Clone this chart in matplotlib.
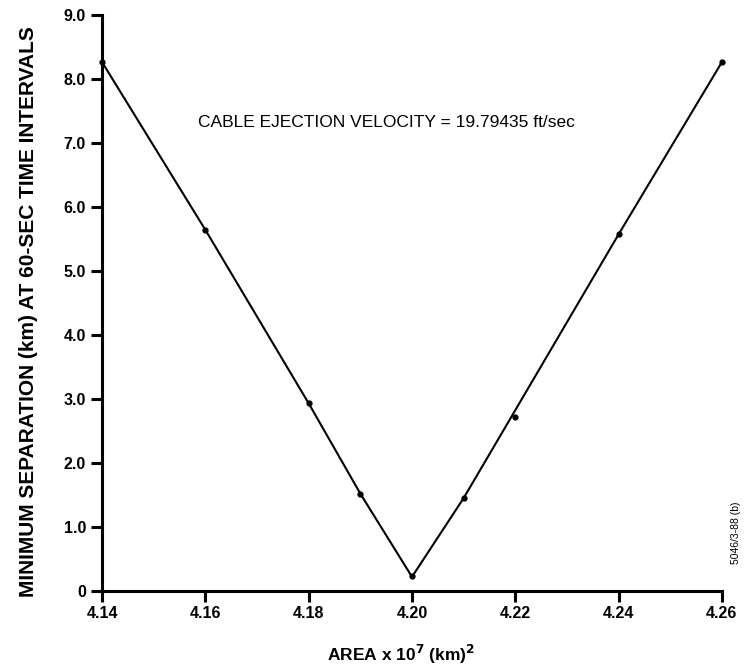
import matplotlib.pyplot as plt
from matplotlib.ticker import FuncFormatter

# measured points (area x 1e7 km^2, min separation km)
area = [4.14, 4.16, 4.18, 4.19, 4.20, 4.21, 4.22, 4.24, 4.26]
separation = [8.26, 5.64, 2.93, 1.52, 0.24, 1.45, 2.72, 5.57, 8.26]

# the drawn curve skips the 4.22 point
curve_area = [4.14, 4.16, 4.18, 4.19, 4.20, 4.21, 4.24, 4.26]
curve_sep = [8.26, 5.64, 2.93, 1.52, 0.22, 1.45, 5.57, 8.26]

x_ticks = [4.14, 4.16, 4.18, 4.20, 4.22, 4.24, 4.26]
y_ticks = [0, 1, 2, 3, 4, 5, 6, 7, 8, 9]

plt.rcParams['font.family'] = ['Liberation Sans', 'DejaVu Sans']

fig = plt.figure(figsize=(7.45, 6.7), dpi=100)
ax = fig.add_axes([0.137, 0.118, 0.832, 0.86])

ax.plot(curve_area, curve_sep, color="black", lw=1.5, clip_on=False)
ax.plot(area, separation, "o", color="black", ms=3.5, clip_on=False)

ax.set_xlim(4.14, 4.26)
ax.set_ylim(0, 9)
ax.set_xticks(x_ticks)
ax.set_yticks(y_ticks)
ax.xaxis.set_major_formatter(FuncFormatter(lambda v, p: f"{v:.2f}"))
ax.yaxis.set_major_formatter(FuncFormatter(lambda v, p: "0" if v == 0 else f"{v:.1f}"))

for s in ["top", "right"]:
    ax.spines[s].set_visible(False)
for s in ["left", "bottom"]:
    ax.spines[s].set_linewidth(2.2)
ax.tick_params(axis="both", width=2.2, length=8, labelsize=11.5)
ax.tick_params(axis="x", pad=3)
for lab in ax.get_xticklabels() + ax.get_yticklabels():
    lab.set_fontweight("bold")

ax.set_xlabel("AREA x 10$^\\mathbf{7}$ (km)$^\\mathbf{2}$", fontsize=12.5,
              fontweight="bold")
ax.xaxis.set_label_coords(0.483, -0.09)
ax.set_ylabel("MINIMUM SEPARATION (km) AT 60-SEC TIME INTERVALS",
              fontsize=15, fontweight="bold")
ax.yaxis.set_label_coords(-0.104, 0.485)

ax.text(4.1585, 7.31, "CABLE EJECTION VELOCITY = 19.79435 ft/sec",
        fontsize=12.5, va="center", ha="left")
fig.text(0.988, 0.205, "5046/3-88 (b)", rotation=90, fontsize=7.5,
         ha="center", va="center")

fig.savefig("out.png", dpi=100)
